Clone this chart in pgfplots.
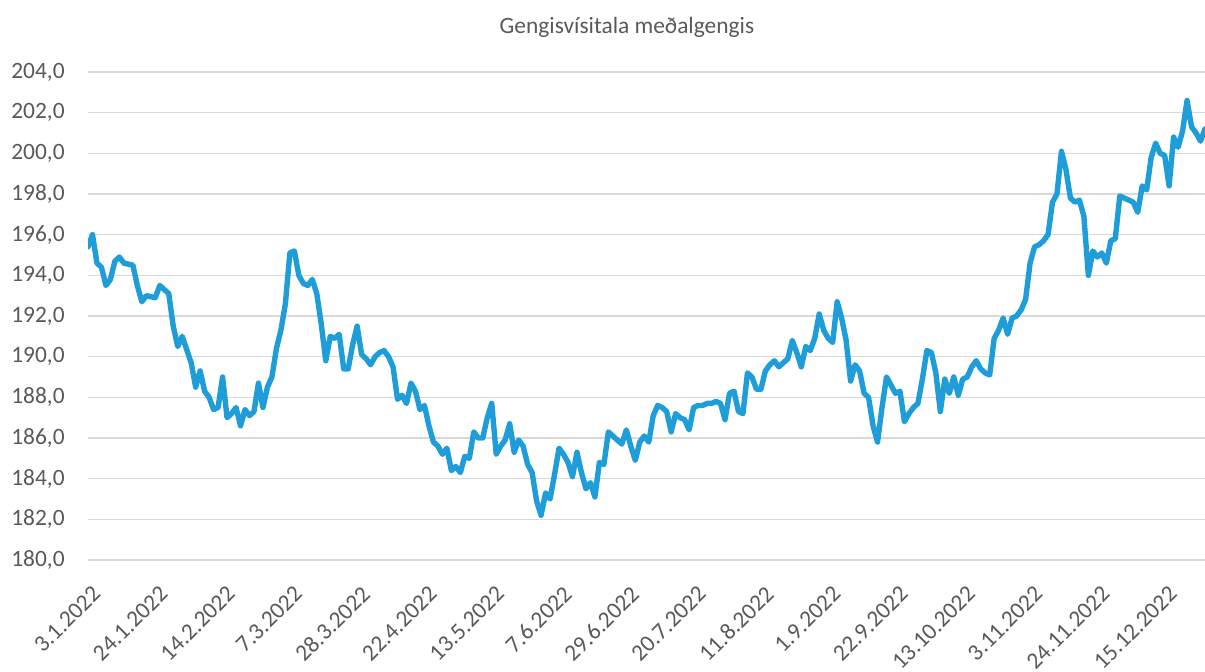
\documentclass[border=0pt]{standalone}
\usepackage{fontspec}
\setmainfont{Carlito}
\usepackage{pgfplots}
\pgfplotsset{compat=1.18}
\usetikzlibrary{calc}
\definecolor{linblue}{HTML}{1E9DD8}
\definecolor{gridgrey}{HTML}{D9D9D9}
\definecolor{txtgrey}{HTML}{595959}
\begin{document}
\begin{tikzpicture}
\begin{axis}[
  scale only axis, width=558.5pt, height=244pt,
  xmin=0, xmax=249, ymin=180, ymax=204,
  axis line style={draw=none}, tick style={draw=none}, major tick length=0pt,
  ytick={180,182,...,204},
  ymajorgrids, grid style={color=gridgrey, line width=0.8pt},
  xtick={0,15,...,240},
  xticklabels={3.1.2022,24.1.2022,14.2.2022,7.3.2022,28.3.2022,22.4.2022,13.5.2022,7.6.2022,29.6.2022,20.7.2022,11.8.2022,1.9.2022,22.9.2022,13.10.2022,3.11.2022,24.11.2022,15.12.2022},
  tick label style={font=\fontsize{11.7}{14}\selectfont, text=txtgrey},
  xticklabel style={inner sep=0pt, xshift=1.5pt, yshift=-12pt, rotate=45, anchor=north east},
  yticklabel style={inner sep=0pt, anchor=east, xshift=-11.5pt, /pgf/number format/.cd, fixed, fixed zerofill, precision=1, use comma, 1000 sep={}, assume math mode=true},
  title={Gengisvísitala meðalgengis},
  title style={font=\fontsize{11.7}{14}\selectfont, text=txtgrey, at={(0.4825,1)}, anchor=center, yshift=16.5pt},
]
\addplot[color=linblue, line width=2.7pt, line join=round, line cap=round] table {
x y
0 195.4
1 196.0
2 194.6
3 194.4
4 193.5
5 193.8
6 194.7
7 194.9
8 194.6
10 194.5
11 193.5
12 192.7
13 193.0
15 192.9
16 193.5
17 193.3
18 193.1
19 191.5
20 190.5
21 191.0
23 189.7
24 188.5
25 189.3
26 188.3
27 188.0
28 187.4
29 187.5
30 189.0
31 187.0
32 187.2
33 187.5
34 186.6
35 187.4
36 187.1
37 187.3
38 188.7
39 187.5
40 188.5
41 189.0
42 190.4
43 191.3
44 192.6
45 195.1
46 195.2
47 194.0
48 193.6
49 193.5
50 193.8
51 193.1
52 191.6
53 189.8
54 191.0
55 190.9
56 191.1
57 189.4
58 189.4
59 190.6
60 191.5
61 190.1
62 189.9
63 189.6
64 190.0
65 190.2
66 190.3
67 190.0
68 189.5
69 187.9
70 188.1
71 187.7
72 188.7
73 188.3
74 187.4
75 187.6
76 186.6
77 185.8
78 185.6
79 185.2
80 185.5
81 184.4
82 184.6
83 184.3
84 185.1
85 185.0
86 186.3
87 186.0
88 186.0
89 187.0
90 187.7
91 185.2
92 185.6
93 185.9
94 186.7
95 185.3
96 185.9
97 185.6
98 184.7
99 184.3
100 182.9
101 182.2
102 183.3
103 183.0
104 184.2
105 185.5
106 185.2
107 184.8
108 184.1
109 185.3
110 184.3
111 183.5
112 183.8
113 183.1
114 184.8
115 184.7
116 186.3
117 186.1
118 185.9
119 185.7
120 186.4
121 185.6
122 184.9
123 185.8
124 186.1
125 185.8
126 187.1
127 187.6
128 187.5
129 187.3
130 186.3
131 187.2
132 187.0
133 186.9
134 186.4
135 187.5
136 187.6
137 187.6
138 187.7
139 187.7
140 187.8
141 187.7
142 186.9
143 188.2
144 188.3
145 187.3
146 187.2
147 189.2
148 189.0
149 188.4
150 188.4
151 189.3
152 189.6
153 189.8
154 189.5
155 189.7
156 189.9
157 190.8
158 190.2
159 189.5
160 190.5
161 190.3
162 190.9
163 192.1
164 191.3
165 190.9
166 190.7
167 192.7
168 191.9
169 190.8
170 188.8
171 189.6
172 189.3
173 188.2
174 188.0
175 186.6
176 185.8
177 187.5
178 189.0
179 188.6
180 188.2
181 188.3
182 186.8
183 187.2
184 187.5
185 187.7
186 188.9
187 190.3
188 190.2
189 189.2
190 187.3
191 188.9
192 188.2
193 189.0
194 188.1
195 188.9
196 189.0
197 189.5
198 189.8
199 189.4
200 189.2
201 189.1
202 190.9
203 191.3
204 191.9
205 191.1
206 191.9
207 192.0
208 192.3
209 192.8
210 194.6
211 195.4
212 195.5
213 195.7
214 196.0
215 197.6
216 198.0
217 200.1
218 199.2
219 197.8
220 197.6
221 197.7
222 196.9
223 194.0
224 195.2
225 194.9
226 195.1
227 194.6
228 195.7
229 195.8
230 197.9
231 197.8
232 197.7
233 197.6
234 197.1
235 198.4
236 198.2
237 199.8
238 200.5
239 200.0
240 199.9
241 198.4
242 200.8
243 200.3
244 201.1
245 202.6
246 201.3
247 201.0
248 200.6
249 201.2
};
\end{axis}
\pgfresetboundingbox
\path[use as bounding box] ($(current axis.south west)+(-44pt,-55.5pt)$) rectangle ($(current axis.north east)+(0pt,36pt)$);
\end{tikzpicture}
\end{document}
